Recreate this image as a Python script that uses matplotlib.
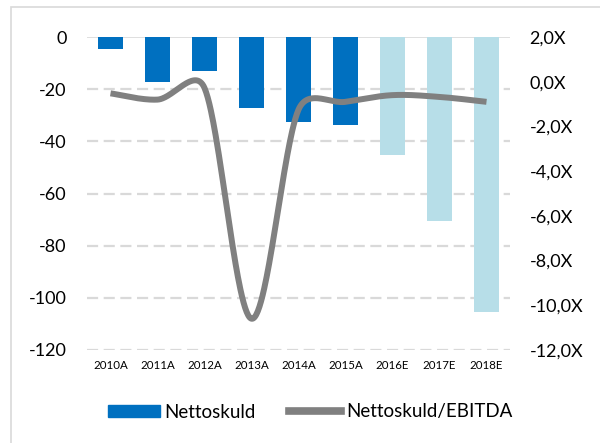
import numpy as np
import matplotlib
matplotlib.use("Agg")
import matplotlib.pyplot as plt
from matplotlib.patches import Rectangle
from matplotlib.lines import Line2D
from matplotlib.patches import Patch

categories = ["2010A", "2011A", "2012A", "2013A", "2014A", "2015A", "2016E", "2017E", "2018E"]
nettoskuld = [-4.6, -17.2, -13.0, -27.2, -32.5, -33.7, -45.2, -70.5, -105.4]
ratio = [-0.52, -0.80, -0.28, -10.6, -1.25, -0.9, -0.6, -0.68, -0.9]
actual_flags = [True, True, True, True, True, True, False, False, False]

left_ticks = [0, -20, -40, -60, -80, -100, -120]
right_ticks = [2, 0, -2, -4, -6, -8, -10, -12]

plt.rcParams['font.family'] = ['Lato', 'DejaVu Sans']

fig = plt.figure(figsize=(6, 4.43), dpi=100)
fig.patches.append(Rectangle((10.5/600, -0.1), 1.0, 1 - 6.5/443 + 0.1, transform=fig.transFigure,
                             fill=False, edgecolor="#d9d9d9", linewidth=1.2))
ax = fig.add_axes([87/600, 1-350/443, 423/600, 313/443])
x = np.arange(len(categories))
colors = ["#0070C0" if a else "#B7DEE8" for a in actual_flags]
ax.bar(x, nettoskuld, width=0.55, color=colors, zorder=2)
ax.set_xlim(-0.5, len(categories) - 0.5)
ax.set_ylim(-120, 0)
ax.set_yticks(left_ticks)
ax.set_yticklabels([str(t) for t in left_ticks], fontsize=13)
for t in left_ticks[1:]:
    ax.axhline(t, color="#d9d9d9", lw=1.6, ls=(0, (5, 2.5)), zorder=1)
ax.axhline(0, color="#d9d9d9", lw=1.2, zorder=1)
ax.set_xticks(x)
ax.set_xticklabels(categories, fontsize=8.3)
ax.tick_params(axis='both', length=0)
ax.tick_params(axis='y', pad=14.5)
ax.tick_params(axis='x', pad=7)
for s in ax.spines.values():
    s.set_visible(False)

ax2 = ax.twinx()
ax2.set_ylim(-12, 2)
ax2.set_yticks(right_ticks)
ax2.set_yticklabels([f"{t:.1f}X".replace(".", ",") for t in right_ticks], fontsize=13)
ax2.tick_params(axis='y', length=0, pad=14)
for s in ax2.spines.values():
    s.set_visible(False)

# Excel-like smoothed line: Bezier with tension 1/6, limited to half the segment length (pixel space)
sx = 423 / len(categories)
sy = 313 / 14.0
P = np.column_stack([x * sx, np.array(ratio) * sy])
n = len(P)
xs, ys = [], []
for i in range(n - 1):
    p1 = P[i]; p2 = P[i+1]
    p0 = P[i-1] if i > 0 else p1
    p3 = P[i+2] if i + 2 < n else p2
    d02 = np.linalg.norm(p2 - p0); d12 = np.linalg.norm(p2 - p1); d13 = np.linalg.norm(p3 - p1)
    f1 = 1/6 if d02/6 < d12/2 else d12 / (2*d02)
    f2 = 1/6 if d13/6 < d12/2 else d12 / (2*d13)
    c1 = p1 + f1 * (p2 - p0)
    c2 = p2 - f2 * (p3 - p1)
    t = np.linspace(0, 1, 60)[:, None]
    b = (1-t)**3*p1 + 3*(1-t)**2*t*c1 + 3*(1-t)*t**2*c2 + t**3*p2
    xs.extend(b[:, 0] / sx); ys.extend(b[:, 1] / sy)
ax2.plot(xs, ys, color="#808080", lw=4.3, solid_capstyle='butt', zorder=3)

handles = [Patch(color="#0070C0"), Line2D([0], [0], color="#808080", lw=5.5)]
fig.legend(handles, ["Nettoskuld", "Nettoskuld/EBITDA"], loc="center",
           bbox_to_anchor=(310/600, 1-412/443), ncol=2, frameon=False, fontsize=13.5,
           handlelength=2.77, handleheight=0.64, columnspacing=1.76, handletextpad=0.27,
           borderpad=0, borderaxespad=0)

fig.savefig("out.png", dpi=100)
